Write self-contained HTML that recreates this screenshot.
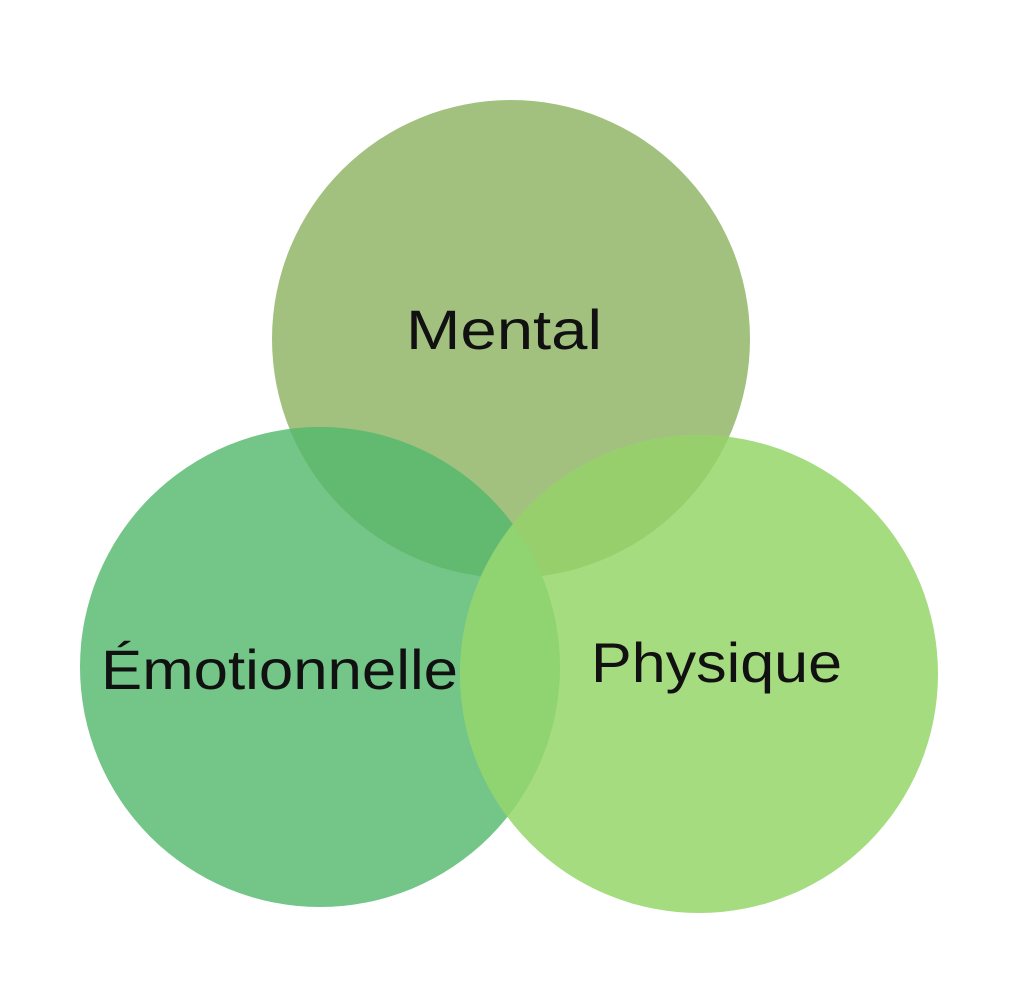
<!DOCTYPE html>
<html><head><meta charset="utf-8"><style>html,body{margin:0;padding:0;background:#fff}</style></head>
<body>
<svg width="1024" height="997" viewBox="0 0 1024 997" xmlns="http://www.w3.org/2000/svg">
<defs>
<clipPath id="cm"><circle cx="511" cy="339" r="239"/></clipPath>
<clipPath id="ce"><circle cx="320" cy="667" r="240"/></clipPath>
<clipPath id="cp"><circle cx="699" cy="674" r="239"/></clipPath>
</defs>
<rect width="1024" height="997" fill="#fff"/>
<circle cx="511" cy="339" r="239" fill="#a2c17f"/>
<circle cx="320" cy="667" r="240" fill="#73c588"/>
<circle cx="699" cy="674" r="239" fill="#a6dc80"/>
<g clip-path="url(#cm)"><circle cx="320" cy="667" r="240" fill="#62b970"/></g>
<g clip-path="url(#cm)"><circle cx="699" cy="674" r="239" fill="#97cf6c"/></g>
<g clip-path="url(#ce)"><circle cx="699" cy="674" r="239" fill="#8fd470"/></g>
<g font-family="Liberation Sans, sans-serif" font-size="56" fill="#111">
<text x="406" y="349" textLength="196" lengthAdjust="spacingAndGlyphs">Mental</text>
<text x="101" y="689" textLength="357" lengthAdjust="spacingAndGlyphs">Émotionnelle</text>
<text x="591" y="682" textLength="251" lengthAdjust="spacingAndGlyphs">Physique</text>
</g>
</svg>
</body></html>
